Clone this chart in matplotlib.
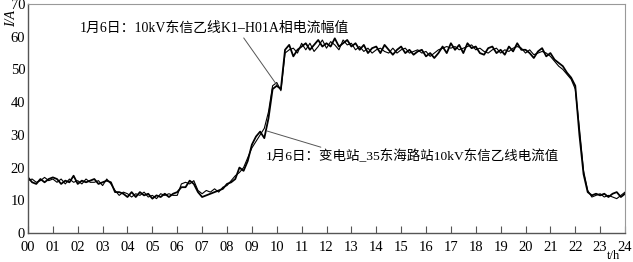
import numpy as np
import matplotlib.pyplot as plt

plt.rcParams['font.family'] = ['Liberation Serif', 'Noto Sans CJK SC']

# 10-minute samples, 00:00 .. 24:00
series_a = [
    17, 15.5, 15, 16.5, 15.5, 16.5,
    17, 16.5, 15, 16, 15.5, 17.5,
    15, 16, 15.5, 16, 16.5, 15,
    15.5, 16, 15.5, 12.5, 12.5, 12,
    11, 12.5, 11, 12.5, 11.5, 12,
    10.5, 11.5, 11, 12, 11, 12,
    12.5, 14, 14, 16, 15, 12.5,
    11, 11.5, 12, 12.5, 13, 13.5,
    15, 15.5, 16.5, 20, 19, 22,
    27, 29.5, 31, 29, 35, 44,
    45, 44, 56, 57.5, 54, 56,
    57, 58, 56, 57.5, 59, 57,
    58, 57, 59.5, 57, 58, 59,
    57, 58, 56, 57.5, 55, 56.5,
    57, 55, 57.5, 56, 54.5, 56,
    57, 55, 56, 54.5, 55.5, 56,
    54, 55, 53.5, 55, 57, 55,
    58, 56, 57.5, 55, 58, 56.5,
    57, 55, 54.5, 56.5, 57, 55,
    56, 54.5, 57, 55.5, 58, 56,
    56, 55, 53.5, 55.5, 56.5, 54,
    55, 53, 52, 51, 49, 47.5,
    45, 30, 18, 12.5, 11.5, 12,
    11.5, 12, 11, 12, 12.5, 11,
    12,
]
series_b = [
    16, 16.5, 15.5, 16, 17, 16,
    16.5, 15.5, 16.5, 15, 16.5, 15.5,
    16, 15, 16.5, 15.5, 15.5, 16,
    14.5, 16.5, 15, 13, 11.5, 12.5,
    12, 11, 12, 11.5, 12.5, 11,
    11.5, 10.5, 12, 11.5, 12, 11.5,
    11.5, 15, 15.5, 15, 16, 13,
    12, 13, 12.5, 13.5, 12.5, 14,
    14.5, 16, 17.5, 18.5, 20, 23,
    26, 28, 30, 32, 37, 45,
    46, 43.5, 55, 56, 56.5, 55,
    58, 56, 58, 55.5, 57, 59,
    56.5, 58.5, 57.5, 56, 59, 57.5,
    58, 56, 57, 55.5, 56.5, 55,
    56, 56.5, 55.5, 55, 56.5, 55,
    56, 56.5, 55, 55.5, 56, 55,
    55.5, 54, 55, 56, 56.5, 57,
    56.5, 57, 56, 56.5, 57, 57.5,
    56, 56.5, 55.5, 55, 56, 56.5,
    55, 56, 55.5, 56.5, 57, 56.5,
    55, 56, 54.5, 55, 55.5, 55,
    54, 52.5, 51, 50, 48.5, 47,
    44, 32, 19, 13, 11, 11.5,
    12, 11, 11.5, 11, 10.5, 11.5,
    12.5,
]
t = np.arange(len(series_a)) / 6.0

x_labels = ['%02d' % h for h in range(25)]
label_a = '1月6日：10kV东信乙线K1–H01A相电流幅值'
label_b = '1月6日：变电站_35东海路站10kV东信乙线电流值'

fig = plt.figure(figsize=(6.33, 2.62), dpi=100)
ax = fig.add_axes([0.0442, 0.1107, 0.9432, 0.874])

ax.plot(t, series_a, color='black', lw=1.3)
ax.plot(t, series_b, color='black', lw=0.8)

ax.set_xlim(0, 24)
ax.set_ylim(0, 70)
ax.set_xticks(range(25))
ax.set_xticklabels(x_labels)
ax.set_yticks(range(0, 71, 10))
ax.tick_params(axis='x', direction='in', length=5, width=0.8, color='#555555',
               labelsize=10.5, pad=6)
ax.tick_params(axis='y', length=0, labelsize=10.5, pad=2)
for side in ['left', 'bottom']:
    ax.spines[side].set_color('#555555')
    ax.spines[side].set_linewidth(1.0)
for side in ['top', 'right']:
    ax.spines[side].set_color('#999999')
    ax.spines[side].set_linewidth(0.8)

ax.annotate(label_a, xy=(10.0, 45.3), xytext=(2.1, 62.5),
            fontsize=10, va='center', ha='left',
            arrowprops=dict(arrowstyle='-', color='#555555', lw=0.7,
                            shrinkA=0, shrinkB=0, relpos=(0.6, 0)))
ax.annotate(label_b, xy=(9.6, 31.2), xytext=(9.55, 23.3),
            fontsize=9.7, va='center', ha='left',
            arrowprops=dict(arrowstyle='-', color='#555555', lw=0.7,
                            shrinkA=0, shrinkB=0, relpos=(0.22, 1)))

fig.text(0.008, 0.93, 'I/A', rotation=90, fontsize=10, ha='left', va='center',
         style='italic')
fig.text(0.958, 0.0, 't/h', fontsize=9, ha='left', va='bottom')

fig.savefig('out.png', dpi=100)
